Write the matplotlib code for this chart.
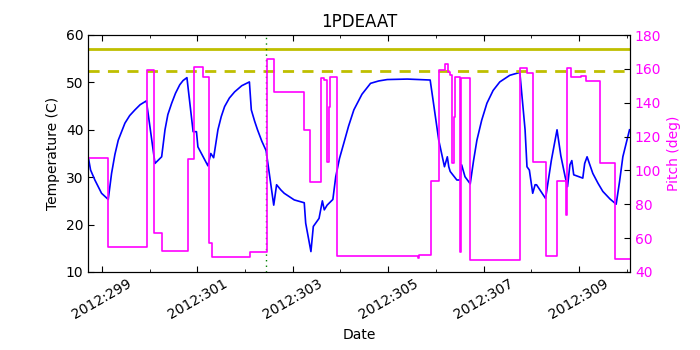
import numpy as np
import matplotlib
matplotlib.use("Agg")
import matplotlib.pyplot as plt
from matplotlib.ticker import MultipleLocator, FuncFormatter

# temperature (day of year 2012, deg C)
temp_day = [298.71, 298.76, 298.85, 298.99, 299.13, 299.20, 299.27, 299.34, 299.48,
            299.58, 299.69, 299.80, 299.93, 300.11, 300.25, 300.32, 300.38, 300.46,
            300.54, 300.63, 300.70, 300.78, 300.91, 300.98, 301.01, 301.22, 301.28,
            301.34, 301.43, 301.50, 301.57, 301.67, 301.78, 301.93, 302.09, 302.13,
            302.20, 302.26, 302.35, 302.44, 302.60, 302.66, 302.75, 302.82, 303.03,
            303.24, 303.27, 303.38, 303.43, 303.55, 303.62, 303.66, 303.72, 303.84,
            303.90, 303.98, 304.07, 304.17, 304.28, 304.45, 304.63, 304.80, 304.98,
            305.40, 305.88, 305.95, 306.06, 306.18, 306.24, 306.27, 306.30, 306.44,
            306.51, 306.54, 306.61, 306.72, 306.79, 306.86, 306.96, 307.07, 307.20,
            307.34, 307.55, 307.76, 307.87, 307.91, 307.96, 308.03, 308.08, 308.11,
            308.30, 308.42, 308.54, 308.62, 308.71, 308.76, 308.81, 308.85, 308.89,
            309.08, 309.12, 309.17, 309.29, 309.40, 309.50, 309.65, 309.78, 309.85,
            309.92, 310.06]
temp_val = [34.3, 31.5, 29.4, 26.6, 25.3, 30.8, 34.8, 37.8, 41.4,
            43.0, 44.2, 45.3, 46.1, 32.9, 34.3, 40.0, 43.2, 45.6,
            47.7, 49.5, 50.4, 51.0, 39.6, 39.6, 36.4, 32.4, 35.0,
            34.1, 40.0, 42.8, 44.9, 46.7, 48.0, 49.3, 50.1, 44.2,
            41.8, 40.0, 37.6, 35.6, 24.1, 28.4, 27.3, 26.6, 25.2,
            24.6, 20.3, 14.3, 19.6, 21.3, 25.0, 23.1, 24.1, 25.3,
            30.1, 34.0, 37.2, 40.8, 44.2, 47.5, 49.8, 50.3, 50.6,
            50.7, 50.5, 45.6, 37.8, 32.2, 34.3, 32.2, 31.2, 29.4,
            29.4, 32.6, 30.1, 28.6, 33.5, 37.8, 42.0, 45.6, 48.3,
            50.1, 51.5, 52.1, 40.0, 32.2, 31.5, 26.6, 28.4, 28.4,
            25.5, 33.5, 40.0, 34.5, 30.1, 28.0, 32.6, 33.5, 30.5,
            29.8, 32.9, 34.3, 30.8, 28.7, 27.0, 25.4, 24.3, 29.0,
            34.3, 40.0]

# pitch (steps: value holds from each day until the next)
pitch_day = [298.71, 299.125, 299.939, 300.096, 300.253, 300.795, 300.931, 301.123,
             301.248, 301.313, 302.096, 302.449, 302.608, 303.244, 303.367, 303.597,
             303.645, 303.714, 303.749, 303.787, 303.923, 305.635, 305.655, 305.889,
             306.063, 306.196, 306.255, 306.286, 306.334, 306.370, 306.401, 306.505,
             306.537, 306.708, 307.772, 307.910, 308.033, 308.301, 308.534, 308.724,
             308.749, 308.823, 309.050, 309.153, 309.443, 309.756, 310.07]
pitch_val = [107.5, 54.6, 159.3, 62.9, 52.6, 106.6, 161.3, 155.4,
             57.0, 48.7, 52.0, 165.6, 146.2, 123.9, 93.3, 154.4,
             153.4, 105.2, 137.6, 155.4, 49.6, 48.0, 50.0, 93.8,
             159.3, 162.7, 158.3, 156.4, 104.2, 131.7, 155.4, 52.0,
             154.4, 47.1, 160.3, 157.4, 105.2, 49.5, 93.9, 73.7,
             160.3, 155.0, 155.8, 153.0, 104.6, 47.9, 47.9]

planning_limit = 57.0
caution_limit = 52.5
event_day = 302.44

plt.rcParams['font.family'] = 'DejaVu Sans'
plt.rcParams['font.size'] = 10
plt.rcParams['xtick.direction'] = 'in'
plt.rcParams['ytick.direction'] = 'in'

fig = plt.figure(figsize=(7, 3.5), dpi=100)
ax1 = fig.add_axes([0.126, 0.223, 0.774, 0.677])

ax1.plot(temp_day, temp_val, color='#0000ff', lw=1.2)
ax1.axhline(planning_limit, color='#bfbf00', lw=2)
ax1.axhline(caution_limit, color='#bfbf00', lw=2, ls='--', dashes=(4, 3))
ax1.axvline(event_day, color='#008000', lw=1, dashes=(1, 3))
ax1.set_ylim(10, 60)
ax1.set_xlim(298.71, 310.07)
ax1.set_ylabel('Temperature (C)')
ax1.set_xlabel('Date')
ax1.set_title('1PDEAAT', fontsize=12)
ax1.xaxis.set_major_locator(MultipleLocator(2, offset=1))
ax1.xaxis.set_minor_locator(MultipleLocator(1))
ax1.xaxis.set_major_formatter(FuncFormatter(lambda d, pos: '2012:%03d' % round(d)))
ax1.tick_params(axis='x', which='both', top=True)
ax1.tick_params(which='major', length=4)
ax1.tick_params(which='minor', length=2)
for lab in ax1.get_xticklabels():
    lab.set_rotation(30)

ax2 = ax1.twinx()
ax2.step(pitch_day, pitch_val, where='post', color='#ff00ff', lw=1.2)
ax2.set_ylim(40, 180)
ax2.set_ylabel('Pitch (deg)', color='#ff00ff')
ax2.tick_params(axis='y', labelcolor='#ff00ff', color='k', length=4)
ax2.set_xlim(298.71, 310.07)

fig.savefig('out.png', dpi=100)
